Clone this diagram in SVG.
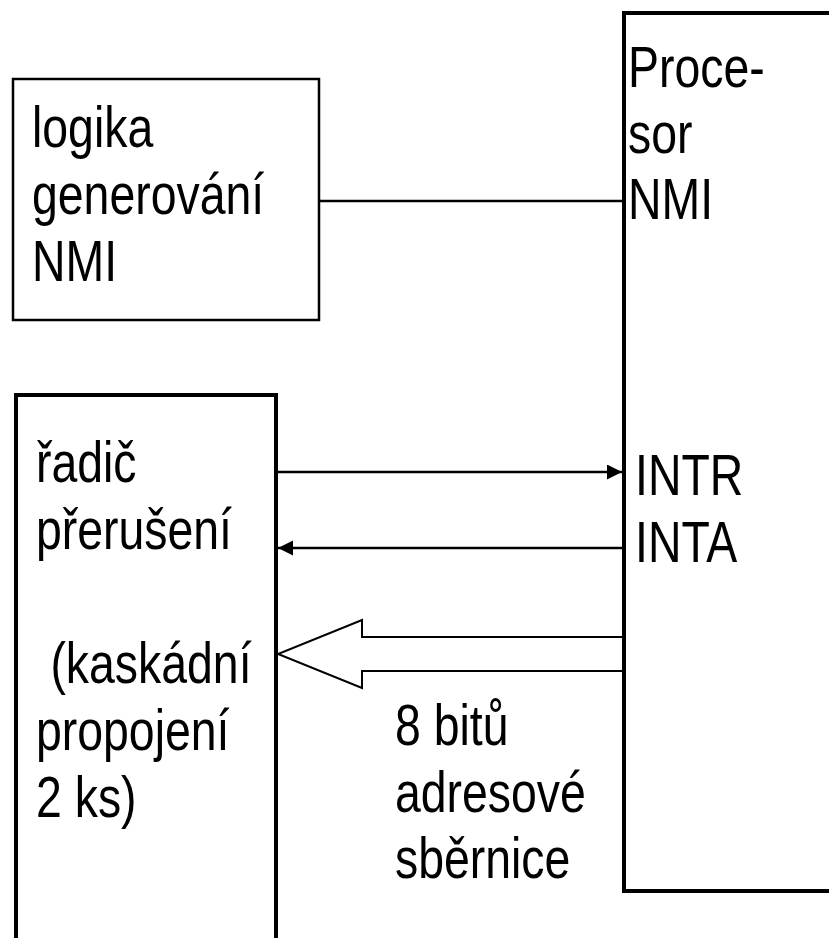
<svg xmlns="http://www.w3.org/2000/svg" width="829" height="938" viewBox="0 0 829 938">
  <style>
    .lbl { font-family: "Liberation Sans", Arial, sans-serif; font-size: 58px; fill: #000; }
    .thick { fill: none; stroke: #000; stroke-width: 4; }
    .thin { fill: none; stroke: #000; stroke-width: 2.5; }
    .wire { fill: none; stroke: #000; stroke-width: 2.5; }
    .bus { fill: #fff; stroke: #000; stroke-width: 2; stroke-linejoin: miter; }
  </style>
  <defs>
    <marker id="head" markerUnits="userSpaceOnUse" markerWidth="16" markerHeight="16" refX="15" refY="7.5" orient="auto">
      <path d="M0,0 L15,7.5 L0,15 z" fill="#000"/>
    </marker>
  </defs>
  <rect width="829" height="938" fill="#fff"/>

  <!-- NMI generator -->
  <g id="nmi-logic">
    <rect class="thin" x="13" y="79" width="306" height="241"/>
    <text class="lbl" transform="translate(32,147) scale(0.8,1)">logika<tspan x="0" dy="67">generování</tspan><tspan x="0" dy="67">NMI</tspan></text>
  </g>

  <!-- processor -->
  <g id="processor">
    <path class="thick" d="M840,13 H624 V891 H840"/>
    <text class="lbl" transform="translate(628,87) scale(0.8,1)">Proce-<tspan x="0" dy="66">sor</tspan><tspan x="0" dy="66">NMI</tspan></text>
    <text class="lbl" transform="translate(635,495) scale(0.8,1)">INTR<tspan x="0" dy="67">INTA</tspan></text>
  </g>

  <!-- interrupt controller -->
  <g id="controller">
    <path class="thick" d="M16,950 V395 H276 V950"/>
    <text class="lbl" transform="translate(36,482) scale(0.8,1)">řadič<tspan x="0" dy="67">přerušení</tspan><tspan x="18" dy="134">(kaskádní</tspan><tspan x="0" dy="67">propojení</tspan><tspan x="0" dy="67">2 ks)</tspan></text>
  </g>

  <!-- bus label -->
  <g id="bus-label">
    <text class="lbl" transform="translate(395,745) scale(0.8,1)">8 bitů<tspan x="0" dy="67">adresové</tspan><tspan x="0" dy="66">sběrnice</tspan></text>
  </g>

  <!-- connectors -->
  <g id="connectors">
    <line class="wire" x1="320" y1="201" x2="623" y2="201"/>
    <line class="wire" x1="278" y1="472" x2="622" y2="472" marker-end="url(#head)"/>
    <line class="wire" x1="622" y1="548" x2="278" y2="548" marker-end="url(#head)"/>
    <polyline class="bus" points="622,637 362,637 362,620 278,654 362,688 362,671 622,671"/>
  </g>
</svg>
